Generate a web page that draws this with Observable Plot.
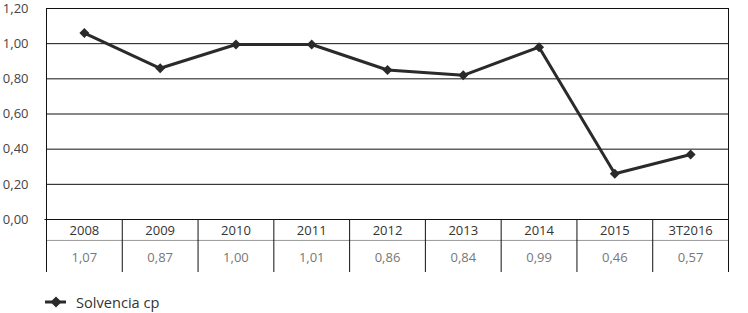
<!DOCTYPE html>
<html><head><meta charset="utf-8">
<script src="https://cdn.jsdelivr.net/npm/d3@7"></script>
<script src="https://cdn.jsdelivr.net/npm/@observablehq/plot@0.6"></script>
<style>
body{margin:0;background:#fff;font-family:"Open Sans",sans-serif;}
#legend{height:33px;position:relative;}
#legend span{position:absolute;left:76px;top:11px;font-size:14.6px;color:#333;line-height:22px;}
#legend svg{position:absolute;left:0;top:0;}
</style></head>
<body>
<div id="chart"></div>
<div id="legend"><svg width="80" height="33"><line x1="45" x2="66" y1="22" y2="22" stroke="#2a2a2a" stroke-width="3"/><path d="M56,16.5L61.5,22L56,27.5L50.5,22Z" fill="#2a2a2a"/></svg><span>Solvencia cp</span></div>
<script>
const categories = ["2008","2009","2010","2011","2012","2013","2014","2015","3T2016"];
const lineValues = [1.06, 0.86, 0.995, 0.995, 0.85, 0.82, 0.98, 0.26, 0.37];
const tableValues = ["1,07","0,87","1,00","1,01","0,86","0,84","0,99","0,46","0,57"];
const yTicks = [0, 0.2, 0.4, 0.6, 0.8, 1.0, 1.2];

const data = categories.map((c, i) => ({i, c, v: lineValues[i], t: tableValues[i]}));
const tableBottom = -0.3015;
const rowSep = -0.119;
const interior = d3.range(0.5, 8, 1);
const outer = [-0.5, 8.5];

const plot = Plot.plot({
  width: 748, height: 280,
  marginLeft: 46, marginRight: 20, marginTop: 8, marginBottom: 61,
  style: {fontFamily: "Open Sans, sans-serif", fontSize: "13px", color: "#333", background: "#fff"},
  x: {domain: [-0.5, 8.5], axis: null},
  y: {domain: [0, 1.2], axis: null},
  marks: [
    Plot.ruleY(yTicks.filter(d => d > 0), {stroke: "#111", strokeWidth: 1}),
    Plot.ruleY([0], {x1: -0.52, x2: 8.5, stroke: "#111", strokeWidth: 1}),
    Plot.ruleY([rowSep], {x1: -0.5, x2: 8.5, stroke: "#999", strokeWidth: 1}),
    Plot.ruleX(outer, {y1: 1.2, y2: tableBottom, stroke: "#111", strokeWidth: 1}),
    Plot.ruleX(interior, {y1: 0, y2: tableBottom, stroke: "#111", strokeWidth: 1}),
    Plot.text(yTicks, {x: -0.5, y: d => d, text: d => d.toFixed(2).replace(".", ","), textAnchor: "end", dx: -18, fill: "#444", fontSize: 13}),
    Plot.text(data, {x: "i", y: 0, text: "c", dy: 11.5, fill: "#333", fontSize: 13}),
    Plot.text(data, {x: "i", y: 0, text: "t", dy: 38.5, fill: "#777", fontSize: 13}),
    Plot.line(data, {x: "i", y: "v", stroke: "#2a2a2a", strokeWidth: 3}),
    Plot.dot(data, {x: "i", y: "v", symbol: "diamond2", r: 4.5, fill: "#2a2a2a", stroke: "none"})
  ]
});
document.getElementById("chart").appendChild(plot);
</script>
</body></html>
